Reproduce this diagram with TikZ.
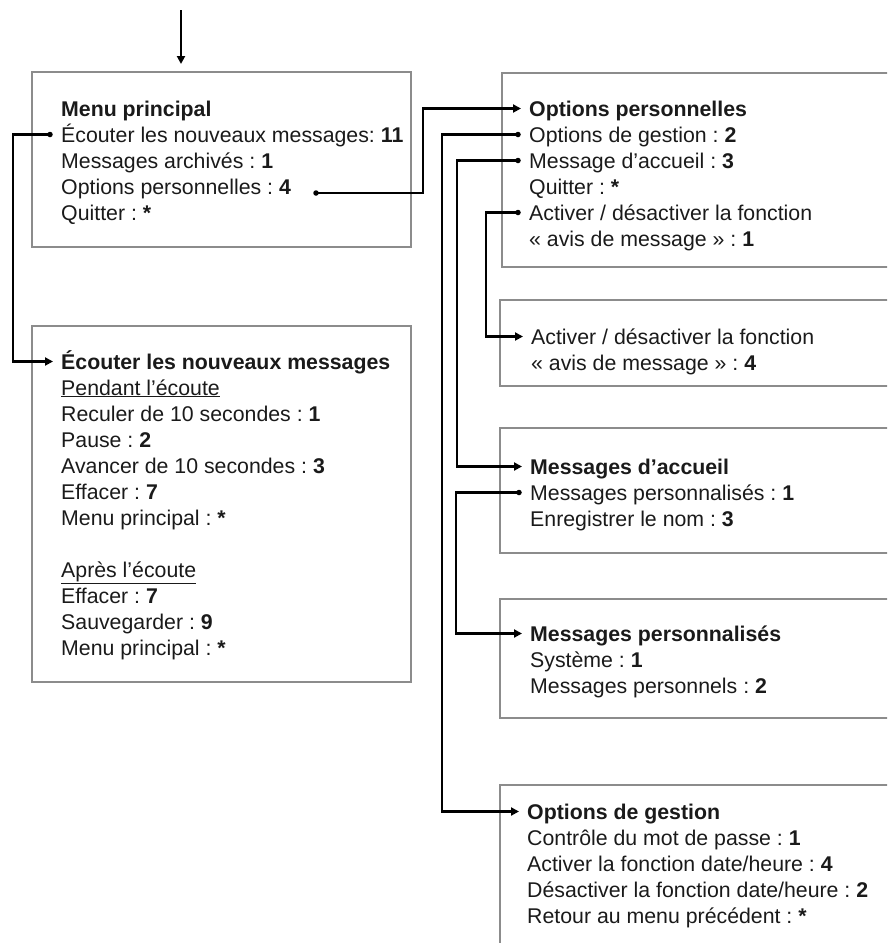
\documentclass[tikz,border=0pt]{standalone}
\usepackage{fontspec}
\setmainfont{Liberation Sans}
\usetikzlibrary{arrows.meta,calc}
\definecolor{boxgray}{HTML}{8C8C8C}
\definecolor{inktext}{HTML}{1A1A1A}
\begin{document}
\frenchspacing
\begin{tikzpicture}[x=1pt,y=-1pt,
  box/.style={draw=boxgray,line width=2.3pt},
  txt/.style={anchor=base west,inner sep=0pt,text height=15pt,text depth=0pt,text=inktext,font=\fontsize{21.3}{26}\selectfont},
  ttl/.style={txt,font=\fontsize{21.3}{26}\selectfont\bfseries},
  conn/.style={line width=2.3pt,-{Triangle[length=8pt,width=8pt]},shorten >=8pt},
  dotmark/.style={circle,fill=black,inner sep=0pt,minimum size=5.5pt},
]
\useasboundingbox (0,0) rectangle (887,943);
\clip (0,0) rectangle (887,943);

% boxes
\draw[box] (32,72) rectangle (411,247);
\draw[box] (32,326) rectangle (411,682);
\draw[box] (502,73) rectangle (900,267);
\draw[box] (500,300) rectangle (900,386);
\draw[box] (500,428) rectangle (900,553);
\draw[box] (500,599) rectangle (900,718);
\draw[box] (500,785) rectangle (900,980);

% box A
\node[ttl] (tA) at (61,116) {Menu principal};
\node[txt] (lA1) at (61,142) {Écouter les nouveaux messages: \textbf{11}};
\node[txt] (lA2) at (61,168) {Messages archivés : \textbf{1}};
\node[txt] (lA3) at (61,194) {Options personnelles : \textbf{4}};
\node[txt] (lA4) at (61,220) {Quitter : \textbf{*}};

% box B
\node[ttl] (tB) at (61,369) {Écouter les nouveaux messages};
\node[txt] (lB1) at (61,395) {\underline{Pendant l’écoute}};
\node[txt] (lB2) at (61,421) {Reculer de 10 secondes : \textbf{1}};
\node[txt] (lB3) at (61,447) {Pause : \textbf{2}};
\node[txt] (lB4) at (61,473) {Avancer de 10 secondes : \textbf{3}};
\node[txt] (lB5) at (61,499) {Effacer : \textbf{7}};
\node[txt] (lB6) at (61,525) {Menu principal : \textbf{*}};
\node[txt] (lB7) at (61,577) {\underline{Après l’écoute}};
\node[txt] (lB8) at (61,603) {Effacer : \textbf{7}};
\node[txt] (lB9) at (61,629) {Sauvegarder : \textbf{9}};
\node[txt] (lB10) at (61,655) {Menu principal : \textbf{*}};

% box C
\node[ttl] (tC) at (529,116) {Options personnelles};
\node[txt] (lC1) at (529,142) {Options de gestion : \textbf{2}};
\node[txt] (lC2) at (529,168) {Message d’accueil : \textbf{3}};
\node[txt] (lC3) at (529,194) {Quitter : \textbf{*}};
\node[txt] (lC4) at (529,220) {Activer / désactiver la fonction};
\node[txt] (lC5) at (529,246) {«~avis de message~» : \textbf{1}};

% box D
\node[txt] (tD) at (531,344) {Activer / désactiver la fonction};
\node[txt] (lD1) at (531,370) {«~avis de message~» : \textbf{4}};

% box E
\node[ttl] (tE) at (530,474) {Messages d’accueil};
\node[txt] (lE1) at (530,500) {Messages personnalisés : \textbf{1}};
\node[txt] (lE2) at (530,526) {Enregistrer le nom : \textbf{3}};

% box F
\node[ttl] (tF) at (530,641) {Messages personnalisés};
\node[txt] (lF1) at (530,667) {Système : \textbf{1}};
\node[txt] (lF2) at (530,693) {Messages personnels : \textbf{2}};

% box G
\node[ttl] (tG) at (527,819) {Options de gestion};
\node[txt] (lG1) at (527,845) {Contrôle du mot de passe : \textbf{1}};
\node[txt] (lG2) at (527,871) {Activer la fonction date/heure : \textbf{4}};
\node[txt] (lG3) at (527,897) {Désactiver la fonction date/heure : \textbf{2}};
\node[txt] (lG4) at (527,923) {Retour au menu précédent : \textbf{*}};

% lanes
\coordinate (laneA) at (13,0);
\coordinate (laneOP) at (423,0);
\coordinate (laneG) at (442,0);
\coordinate (laneF) at (456,0);
\coordinate (laneE) at (457,0);
\coordinate (laneD) at (486,0);

% dots
\coordinate (dA1) at ([xshift=-11pt]lA1.west);
\coordinate (dA3) at (316,193);
\coordinate (dC1) at ([xshift=-11pt]lC1.west);
\coordinate (dC2) at ([xshift=-11pt]lC2.west);
\coordinate (dC4) at ([xshift=-11pt]lC4.west);
\coordinate (dE1) at ([xshift=-11pt]lE1.west);
\foreach \d in {dA1,dA3,dC1,dC2,dC4,dE1} \node[dotmark] at (\d) {};

% top arrow
\coordinate (entry) at (181,10);
\coordinate (entryend) at (181,72);
\draw[conn] (entry) -- (entryend);

% connectors
\draw[conn] (dA1) -- (dA1 -| laneA) |- (tB.west);
\draw[conn] (dA3) -- (dA3 -| laneOP) |- (tC.west);
\draw[conn] (dC1) -- (dC1 -| laneG) |- (tG.west);
\draw[conn] (dC2) -- (dC2 -| laneE) |- (tE.west);
\draw[conn] (dC4) -- (dC4 -| laneD) |- (tD.west);
\draw[conn] (dE1) -- (dE1 -| laneF) |- (tF.west);
\end{tikzpicture}
\end{document}
